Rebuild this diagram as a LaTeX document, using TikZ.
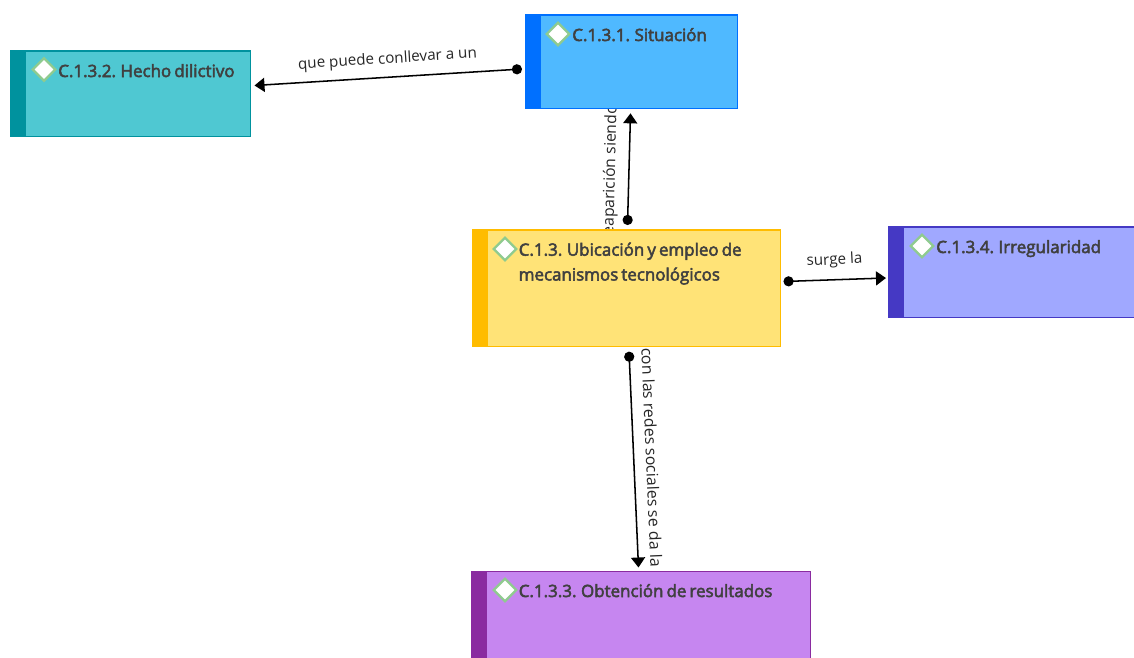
\documentclass[tikz,border=0pt]{standalone}
\usepackage{fontspec}
\setmainfont{Open Sans}
\newfontfamily\titlefont[FakeBold=3,WordSpace=0.7]{Open Sans}
\usetikzlibrary{arrows.meta}
\definecolor{txt}{HTML}{404040}
\definecolor{gemline}{HTML}{8FCB8F}
\definecolor{sitfill}{HTML}{4FB9FF}\definecolor{sitline}{HTML}{0070FF}
\definecolor{hecfill}{HTML}{4FC8D2}\definecolor{hecline}{HTML}{00929E}
\definecolor{ubifill}{HTML}{FFE377}\definecolor{ubiline}{HTML}{FFBC00}
\definecolor{irrfill}{HTML}{A0A8FF}\definecolor{irrline}{HTML}{4539C4}
\definecolor{obtfill}{HTML}{C686F0}\definecolor{obtline}{HTML}{8A2BA0}
\tikzset{
  x=0.75pt,y=-0.75pt,
  box/.style={draw=#1,line width=0.9pt,anchor=north west,inner sep=0pt,outer sep=0pt},
  stripe/.style={fill=#1,draw=none,anchor=north west,inner sep=0pt,outer sep=0pt,minimum width=11.4pt},
  gem/.style={draw=gemline,fill=white,line width=1.7pt,shape=rectangle,rotate=45,minimum size=12pt,inner sep=0pt},
  title/.style={text=txt,anchor=base west,inner sep=0pt,align=left,font=\titlefont\fontsize{12.7pt}{18.6pt}\selectfont},
  lbl/.style={text=black!85,inner sep=0pt,font=\fontsize{#1}{13pt}\selectfont},
  lbl/.default=11.4pt,
  conn/.style={line width=1.15pt,black,{Circle[length=7.6pt,width=7.6pt]}-{Triangle[length=7.5pt,width=10.5pt]}}
}
\begin{document}
\begin{tikzpicture}
\useasboundingbox (0,0) rectangle (1134,657);
\clip (0,0) rectangle (1134,657);
% labels lie behind the boxes
\node[lbl,rotate=3.6] (lque) at (387.5,59.5) {que puede conllevar a un};
\node[lbl,rotate=3] (lsurge) at (834.5,260.5) {surge la};
\node[lbl=11.8pt,rotate=88.6,anchor=east] (lapa) at (612.5,105) {eaparición siendo};
\node[lbl=11.9pt,rotate=-87.6,anchor=east] (lcon) at (656.5,567) {con las redes sociales se da la};
% boxes
\node[box=sitline,fill=sitfill,minimum width=159pt,minimum height=70pt] (sit) at (525.5,15) {};
\node[stripe=sitline,minimum height=70pt] (sits) at (525.5,15) {};
\node[box=hecline,fill=hecfill,minimum width=180pt,minimum height=64pt] (hec) at (10.5,51) {};
\node[stripe=hecline,minimum height=64pt] (hecs) at (10.5,51) {};
\node[box=ubiline,fill=ubifill,minimum width=231pt,minimum height=87.5pt] (ubi) at (472.5,230) {};
\node[stripe=ubiline,minimum height=87.5pt] (ubis) at (472.5,230) {};
\node[box=irrline,fill=irrfill,minimum width=195pt,minimum height=68pt] (irr) at (889,227) {};
\node[stripe=irrline,minimum height=68pt] (irrs) at (889,227) {};
\node[box=obtline,fill=obtfill,minimum width=254pt,minimum height=80pt] (obt) at (471.5,571.5) {};
\node[stripe=obtline,minimum height=80pt] (obts) at (471.5,571.5) {};
% markers
\node[gem] (g1) at (558,34) {};
\node[gem] (g2) at (44,69.5) {};
\node[gem] (g3) at (505,249) {};
\node[gem] (g4) at (922,246) {};
\node[gem] (g5) at (505,590) {};
% titles
\node[title] (t1) at (572,41) {C.1.3.1. Situación};
\node[title] (t2) at (58,77) {C.1.3.2. Hecho dilictivo};
\node[title] (t3) at (518.5,280.5) {C.1.3. Ubicación y empleo de\\mecanismos tecnológicos};
\node[title] (t4) at (936,253) {C.1.3.4. Irregularidad};
\node[title] (t5) at (518.5,597) {C.1.3.3. Obtención de resultados};
% connector ends
\coordinate (a1) at ([shift={(-3.5,54)}]sit.north west);
\coordinate (b1) at ([shift={(4,34.5)}]hec.north east);
\coordinate (a2) at ([shift={(155,-5)}]ubi.north west);
\coordinate (b2) at ([shift={(105,5)}]sit.south west);
\coordinate (a3) at ([shift={(156.5,5)}]ubi.south west);
\coordinate (b3) at ([shift={(167,-4)}]obt.north west);
\coordinate (a4) at ([shift={(3,51.5)}]ubi.north east);
\coordinate (b4) at ([shift={(-3,51)}]irr.north west);
\draw[conn] (a1) -- (b1);
\draw[conn] (a2) -- (b2);
\draw[conn] (a3) -- (b3);
\draw[conn] (a4) -- (b4);
\end{tikzpicture}
\end{document}
